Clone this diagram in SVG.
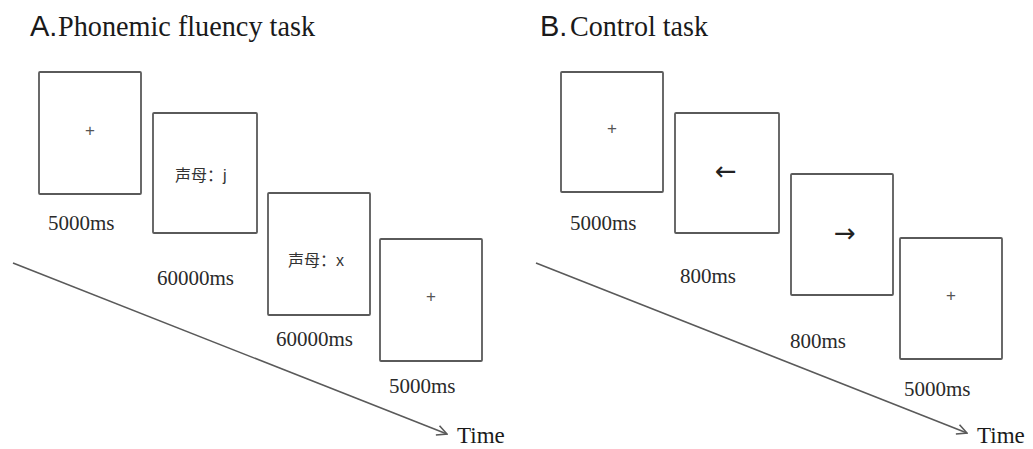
<svg xmlns="http://www.w3.org/2000/svg" width="1033" height="449" viewBox="0 0 1033 449">
  <style>
    .frame { fill: #fff; stroke: #5a5a5a; stroke-width: 1.8; }
    .lead { font-family: "Liberation Sans", sans-serif; font-size: 29px; fill: #1a1a1a; }
    .head { font-family: "Liberation Serif", serif; font-size: 30px; fill: #1a1a1a; }
    .dur { font-family: "Liberation Serif", serif; font-size: 21px; fill: #2a2a2a; }
    .time { font-family: "Liberation Serif", serif; font-size: 23px; fill: #1a1a1a; }
    .fix { font-family: "Liberation Sans", sans-serif; font-size: 17px; fill: #555; text-anchor: middle; }
    .cue { font-family: "Liberation Sans", "Noto Sans CJK SC", sans-serif; font-size: 16px; fill: #333; }
    .arrow { font-family: "DejaVu Sans", sans-serif; font-size: 26px; fill: #222; text-anchor: middle; }
    .axis { fill: none; stroke: #5a5a5a; stroke-width: 1.6; }
  </style>
  <defs>
    <marker id="chevron" viewBox="0 0 12 12" refX="11" refY="6" markerWidth="12" markerHeight="12" markerUnits="userSpaceOnUse" orient="auto">
      <path d="M1,1 L11,6 L1,11" fill="none" stroke="#5a5a5a" stroke-width="1.6"/>
    </marker>
  </defs>
  <rect width="1033" height="449" fill="#fff"/>

  <!-- Panel A: phonemic fluency -->
  <g id="title-a">
    <text class="lead" x="30" y="36">A.</text>
    <text class="head" x="58" y="36" textLength="257" lengthAdjust="spacingAndGlyphs">Phonemic fluency task</text>
  </g>

  <g id="a-fix1">
    <rect class="frame" x="39" y="72" width="102" height="122" rx="1"/>
    <text class="fix" x="90" y="136">+</text>
    <text class="dur" x="48" y="230">5000ms</text>
  </g>
  <g id="a-cue-j">
    <rect class="frame" x="153" y="113" width="104" height="120" rx="1"/>
    <text class="cue" x="175" y="181">声母：j</text>
    <text class="dur" x="157" y="285">60000ms</text>
  </g>
  <g id="a-cue-x">
    <rect class="frame" x="268" y="193" width="102" height="122" rx="1"/>
    <text class="cue" x="288" y="266">声母：x</text>
    <text class="dur" x="276" y="346">60000ms</text>
  </g>
  <g id="a-fix2">
    <rect class="frame" x="380" y="239" width="102" height="122" rx="1"/>
    <text class="fix" x="431" y="302">+</text>
    <text class="dur" x="389" y="393">5000ms</text>
  </g>

  <!-- Panel B: control task -->
  <g id="title-b">
    <text class="lead" x="540" y="36">B.</text>
    <text class="head" x="570" y="36" textLength="138" lengthAdjust="spacingAndGlyphs">Control task</text>
  </g>

  <g id="b-fix1">
    <rect class="frame" x="561" y="72" width="102" height="120" rx="1"/>
    <text class="fix" x="612" y="134">+</text>
    <text class="dur" x="570" y="230">5000ms</text>
  </g>
  <g id="b-left">
    <rect class="frame" x="675" y="113" width="104" height="120" rx="1"/>
    <text class="arrow" x="726" y="180">←</text>
    <text class="dur" x="680" y="283">800ms</text>
  </g>
  <g id="b-right">
    <rect class="frame" x="791" y="174" width="102" height="121" rx="1"/>
    <text class="arrow" x="845" y="242">→</text>
    <text class="dur" x="790" y="348">800ms</text>
  </g>
  <g id="b-fix2">
    <rect class="frame" x="900" y="238" width="102" height="121" rx="1"/>
    <text class="fix" x="951" y="301">+</text>
    <text class="dur" x="904" y="396">5000ms</text>
  </g>

  <!-- time axes -->
  <g id="connectors">
    <line class="axis" x1="13" y1="263" x2="447" y2="434" marker-end="url(#chevron)"/>
    <line class="axis" x1="536" y1="263" x2="967" y2="433" marker-end="url(#chevron)"/>
  </g>
  <text class="time" x="457" y="443">Time</text>
  <text class="time" x="977" y="443">Time</text>
</svg>
